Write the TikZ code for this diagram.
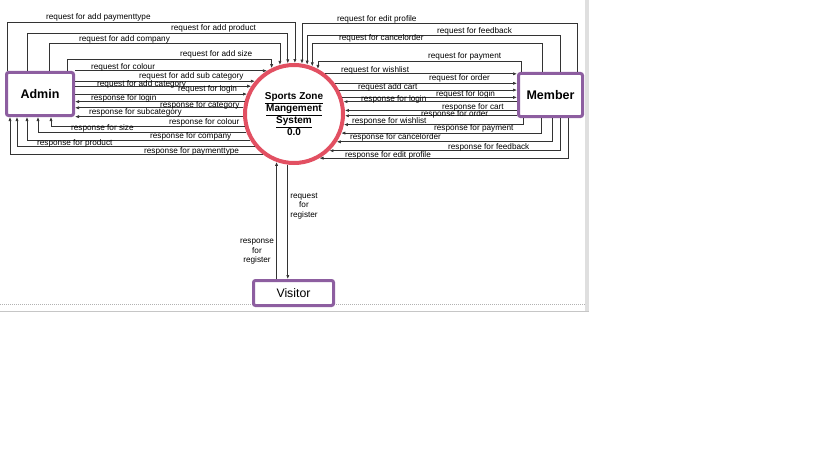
\documentclass[tikz,border=0pt]{standalone}
\usepackage{fontspec}
\setmainfont{Liberation Sans}
\usetikzlibrary{arrows.meta}
\definecolor{actorpurple}{RGB}{141,94,160}
\definecolor{ringred}{RGB}{226,80,98}

\begin{document}
\begin{tikzpicture} [x = 1pt, y = -1pt,
  actor/.style = {draw = actorpurple, line width = 3pt, fill = white, rounded corners = 2pt, inner sep = 0pt, minimum width = 67pt, minimum height = 43pt, font = \fontsize{12.5}{14}\selectfont\bfseries},
  process/.style = {circle, draw = ringred, line width = 4pt, fill = white, minimum size = 98pt, inner sep = 0pt, align = center, font = \fontsize{10}{12}\selectfont\bfseries},
  flow/.style = {draw = black!80, line width = 0.7pt, -{Latex[length = 4pt, width = 3.2pt]}},
  flowlabel/.style = {black, right, inner sep = 0pt, text height = 6pt, text depth = 2pt, font = \fontsize{8.2}{9}\selectfont},
  regtext/.style = {black, inner sep = 0pt, align = center, font = \fontsize{8.2}{9.5}\selectfont}]
\useasboundingbox (0, 0) rectangle (819, 460);
% page frame of the drawing area
\fill[gray!25] (585, 0) rectangle (589, 311);
\draw[gray!45, line width = 0.6pt] (0, 311) -- (589, 311);
\draw[gray!60, line width = 0.6pt, dash pattern = on 1pt off 1pt] (0, 304) -- (585, 304);

% entities and process
\node[actor] (admin) at (40, 94){Admin};
\node[actor, minimum width = 64pt] (member) at (550.5, 95){Member};
\node[actor, minimum width = 80pt, minimum height = 25pt, font = \fontsize{12.3}{14}\selectfont] (visitor) at (293.5, 293){Visitor};
\node[process] (zone) at (294, 114){\underline{Sports Zone}\\\underline{Mangement}\\\underline{System}\\0.0};

% admin side
\draw[flow] (admin.north -| 7,0) -- (7, 22) -| (zone.89);
\draw[flow] (admin.north -| 27,0) -- (27, 33) -| (zone.97);
\draw[flow] (admin.north -| 49,0) -- (49, 43) -| (zone.106);
\draw[flow] (admin.north -| 67,0) -- (67, 59) -| (zone.116);
\draw[flow] (admin.east |- zone.122) -- (zone.122);
\draw[flow] (admin.east |- zone.140) -- (zone.140);
\draw[flow] (admin.east |- zone.147) -- (zone.147);
\draw[flow] (admin.east |- zone.157) -- (zone.157);
\draw[flow] (zone.166) -- (zone.166 -| admin.east);
\draw[flow] (zone.173) -- (zone.173 -| admin.east);
\draw[flow] (zone.183) -- (zone.183 -| admin.east);
\draw[flow] (zone.194) -| (admin.south -| 51,0);
\draw[flow] (zone.201) -| (admin.south -| 38,0);
\draw[flow] (zone.211) -| (admin.south -| 27,0);
\draw[flow] (zone.220) -| (admin.south -| 17,0);
\draw[flow] (zone.232) -| (admin.south -| 10,0);

\node[flowlabel] (apay) at (46, 18){request for add paymenttype};
\node[flowlabel] (aprod) at (171, 29){request for add product};
\node[flowlabel] (acomp) at (79, 40){request for add company};
\node[flowlabel] (asize) at (180, 55){request for add size};
\node[flowlabel] (acol) at (91, 68){request for colour};
\node[flowlabel] (asubcat) at (139, 76){request for add sub category};
\node[flowlabel] (acat) at (97, 84){request for add category};
\node[flowlabel] (alogin) at (178, 90){request for login};
\node[flowlabel] (rlogin) at (91, 98){response for login};
\node[flowlabel] (rcat) at (160, 105){response for category};
\node[flowlabel] (rsubcat) at (89, 112){response for subcategory};
\node[flowlabel] (rcol) at (169, 122){response for colour};
\node[flowlabel] (rsize) at (71, 128){response for size};
\node[flowlabel] (rcomp) at (150, 136){response for company};
\node[flowlabel] (rprod) at (37, 143){response for product};
\node[flowlabel] (rpay) at (144, 151){response for paymenttype};

% member side
\draw[flow] (member.north -| 577,0) -- (577, 23) -| (zone.81);
\draw[flow] (member.north -| 560,0) -- (560, 35) -| (zone.75);
\draw[flow] (member.north -| 542,0) -- (542, 43) -| (zone.69);
\draw[flow] (member.north -| 521,0) -- (521, 61) -| (zone.62);
\draw[flow] (zone.52) -- (zone.52 -| member.west);
\draw[flow] (zone.37) -- (zone.37 -| member.west);
\draw[flow] (zone.28) -- (zone.28 -| member.west);
\draw[flow] (zone.19) -- (zone.19 -| member.west);
\draw[flow] (member.west |- zone.14) -- (zone.14);
\draw[flow] (member.west |- zone.4) -- (zone.4);
\draw[flow] (member.west |- zone.358) -- (zone.358);
\draw[flow] (member.south -| 523,0) |- (zone.348);
\draw[flow] (member.south -| 541,0) |- (zone.338);
\draw[flow] (member.south -| 552,0) |- (zone.327);
\draw[flow] (member.south -| 560,0) |- (zone.314);
\draw[flow] (member.south -| 568,0) |- (zone.300);

\node[flowlabel] (medit) at (337, 20){request for edit profile};
\node[flowlabel] (mfeed) at (437, 32){request for feedback};
\node[flowlabel] (mcancel) at (339, 39){request for cancelorder};
\node[flowlabel] (mpay) at (428, 57){request for payment};
\node[flowlabel] (mwish) at (341, 70){request for wishlist};
\node[flowlabel] (morder) at (429, 79){request for order};
\node[flowlabel] (mcart) at (358, 87){request add cart};
\node[flowlabel] (mlogin) at (436, 94){request for login};
\node[flowlabel] (nlogin) at (361, 99){response for login};
\node[flowlabel] (ncart) at (442, 107){response for cart};
\node[flowlabel] (norder) at (421, 114){response for order};
\node[flowlabel] (nwish) at (352, 121){response for wishlist};
\node[flowlabel] (npay) at (434, 128){response for payment};
\node[flowlabel] (ncancel) at (350, 137){response for cancelorder};
\node[flowlabel] (nfeed) at (448, 147){response for feedback};
\node[flowlabel] (nedit) at (345, 155){response for edit profile};

% visitor
\draw[flow] (zone.263) -- (zone.263 |- visitor.north);
\draw[flow] (zone.250 |- visitor.north) -- (zone.250);
\node[regtext] (vreq) at (304, 206){request\\for\\register};
\node[regtext] (vres) at (257, 252){response\\for\\register};
\end{tikzpicture}
\end{document}
